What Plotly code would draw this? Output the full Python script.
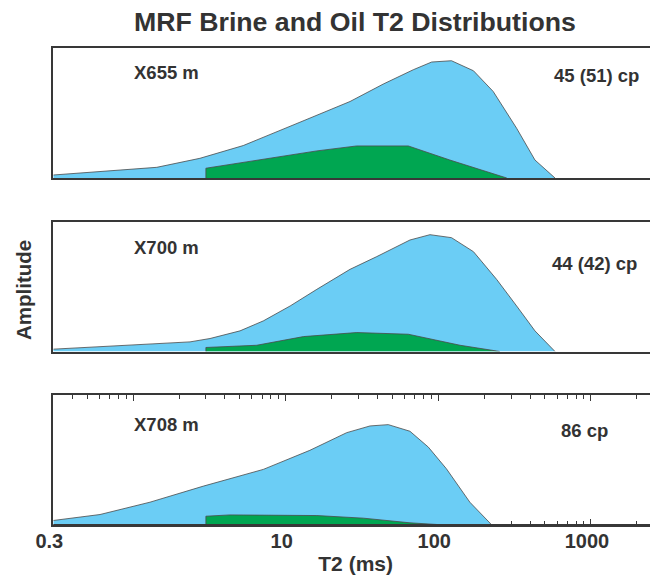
import math
import plotly.graph_objects as go

# ---- data ----
t2_655_brine = [0.3, 1.43, 2.74, 5.27, 12.4, 26.4, 43.6, 68.6, 90.5, 122, 170, 229, 326, 430, 582]
amp_655_brine = [2.3, 8.2, 15.1, 24.9, 42.8, 58.7, 72.1, 83.1, 89.0, 90.0, 82.3, 66.4, 38.2, 13.8, 0]
t2_655_oil = [3.0, 3.0, 16, 29.2, 63.6, 119, 281]
amp_655_oil = [0, 7.5, 20.8, 24.6, 24.6, 13.8, 0]

t2_700_brine = [0.3, 2.36, 3.19, 5.02, 7.14, 10.7, 16, 26.4, 39.5, 65.2, 88.2, 122, 170, 241, 326, 430, 582]
amp_700_brine = [1.8, 7.4, 10.0, 15.9, 23.6, 35.1, 47.9, 63.3, 73.1, 85.9, 90.0, 87.7, 76.9, 55.6, 35.1, 15.9, 0]
t2_700_oil = [3.0, 3.0, 6.45, 13.1, 29.2, 63.6, 139, 253]
amp_700_oil = [0, 3.1, 4.8, 11.5, 14.6, 13.3, 4.8, 0]

t2_708_brine = [0.3, 0.607, 1.29, 2.89, 7.14, 14.4, 25.1, 35.7, 47, 65.2, 86, 113, 161, 224]
amp_708_brine = [3.4, 8.0, 17.5, 29.9, 42.8, 57.5, 71.1, 76.3, 77.3, 72.2, 60.0, 43.3, 17.5, 0]
t2_708_oil = [3.0, 3.0, 4.31, 16, 32.3, 65.2, 108]
amp_708_oil = [0, 6.7, 7.7, 7.2, 5.2, 1.6, 0]

depth_labels = ["X655 m", "X700 m", "X708 m"]
visc_labels = ["45 (51) cp", "44 (42) cp", "86 cp"]
major_ticks = [0.3, 1, 10, 100, 1000]
major_text = ["0.3", "", "10", "100", "1000"]

# ---- styling ----
OFF = 8                      # page body margin of the browser
W, H = 658 - OFF, 575 - OFF  # figure size so it fills the window
BLUE = "#6BCDF5"
GREEN = "#00A651"
EDGE = "#4a4a4a"
AX = "#383838"
TXT = "#333333"
FONT = "Liberation Sans, Arial, sans-serif"


def px(x):   # window x pixel -> paper x
    return (x - OFF) / W


def py(y):   # window y pixel -> paper y
    return 1 - (y - OFF) / H


x_left_px = 53.3
px_per_decade = 152.6
xr = [math.log10(0.3), math.log10(0.3) + (658 - x_left_px) / px_per_decade]

panels_px = [(47.7, 178.0), (221.7, 351.5), (395.2, 524.9)]
doms = [[py(b), py(t)] for (t, b) in panels_px]
xdom = [px(x_left_px), 1.0]

brines = [(t2_655_brine, amp_655_brine), (t2_700_brine, amp_700_brine), (t2_708_brine, amp_708_brine)]
oils = [(t2_655_oil, amp_655_oil), (t2_700_oil, amp_700_oil), (t2_708_oil, amp_708_oil)]

fig = go.Figure()
for i in range(3):
    xa = "x" if i == 0 else f"x{i+1}"
    ya = "y" if i == 0 else f"y{i+1}"
    bx, by = brines[i]
    ox, oy = oils[i]
    fig.add_trace(go.Scatter(x=bx, y=by, xaxis=xa, yaxis=ya, mode="lines",
                             fill="tozeroy", fillcolor=BLUE,
                             line=dict(color=EDGE, width=0.8), showlegend=False,
                             hoverinfo="skip"))
    fig.add_trace(go.Scatter(x=ox, y=oy, xaxis=xa, yaxis=ya, mode="lines",
                             fill="tozeroy", fillcolor=GREEN,
                             line=dict(color=EDGE, width=0.8), showlegend=False,
                             hoverinfo="skip"))

minor_vals = [d * 10 ** k for k in range(-1, 4) for d in range(2, 10)]
minor_vals = [v for v in minor_vals if 0.3 < v < 3000]

layout = dict(width=W, height=H, margin=dict(l=0, r=0, t=0, b=0),
              paper_bgcolor="white", plot_bgcolor="white", showlegend=False)
for i in range(3):
    xk = "xaxis" if i == 0 else f"xaxis{i+1}"
    yk = "yaxis" if i == 0 else f"yaxis{i+1}"
    ya = "y" if i == 0 else f"y{i+1}"
    xa = "x" if i == 0 else f"x{i+1}"
    xaxis = dict(type="log", range=xr, domain=xdom, anchor=ya,
                 showline=True, linecolor=AX, linewidth=2, mirror=True,
                 showgrid=False, zeroline=False, automargin=False,
                 ticks="", showticklabels=False, fixedrange=True)
    if i == 2:
        xaxis.update(mirror="ticks", ticks="inside", ticklen=6, tickwidth=1.2,
                     tickcolor=AX, tickmode="array", tickvals=major_ticks,
                     ticktext=major_text, showticklabels=True,
                     tickfont=dict(family=FONT, size=20, color=TXT, weight="bold"),
                     ticklabelstandoff=-3, ticklabelshift=-4,
                     layer="below traces",
                     minor=dict(tickmode="array", tickvals=minor_vals, ticks="inside",
                                ticklen=3.5, tickwidth=1, tickcolor=AX, showgrid=False),
                     title=dict(text="T2 (ms)", standoff=7,
                                font=dict(family=FONT, size=21, color=TXT, weight="bold")))
    layout[xk] = xaxis
    layout[yk] = dict(range=[0, 100], domain=doms[i], anchor=xa,
                      showline=True, linecolor=AX, linewidth=2, mirror=False,
                      showgrid=False, zeroline=False, ticks="", showticklabels=False,
                      automargin=False, fixedrange=True)
fig.update_layout(**layout)

# bottom edge of the last panel drawn over the fills
fig.add_shape(type="line", xref="x3 domain", yref="y3", x0=0, x1=1, y0=0, y1=0,
              line=dict(color=AX, width=2), layer="above")

label_y_px = [(73.0, 75.0), (247.3, 263.0), (424.3, 430.0)]
right_x_px = [551.5, 550.0, 559.0]
for i in range(3):
    ly, ry = label_y_px[i]
    fig.add_annotation(x=px(132), y=py(ly), xref="paper", yref="paper",
                       xanchor="left", yanchor="middle", showarrow=False,
                       text=depth_labels[i],
                       font=dict(family=FONT, size=18.5, color=TXT, weight="bold"))
    fig.add_annotation(x=px(right_x_px[i]), y=py(ry), xref="paper", yref="paper",
                       xanchor="left", yanchor="middle", showarrow=False,
                       text=visc_labels[i],
                       font=dict(family=FONT, size=18.5, color=TXT, weight="bold"))

fig.add_annotation(x=px(355), y=py(22), xref="paper", yref="paper",
                   xanchor="center", yanchor="middle", showarrow=False,
                   text="MRF Brine and Oil T2 Distributions",
                   font=dict(family=FONT, size=26.7, color=TXT, weight="bold"))
fig.add_annotation(x=px(23), y=py(290), xref="paper", yref="paper",
                   xanchor="center", yanchor="middle", showarrow=False, textangle=-90,
                   text="Amplitude",
                   font=dict(family=FONT, size=20.5, color=TXT, weight="bold"))

fig.write_html("out.html")
